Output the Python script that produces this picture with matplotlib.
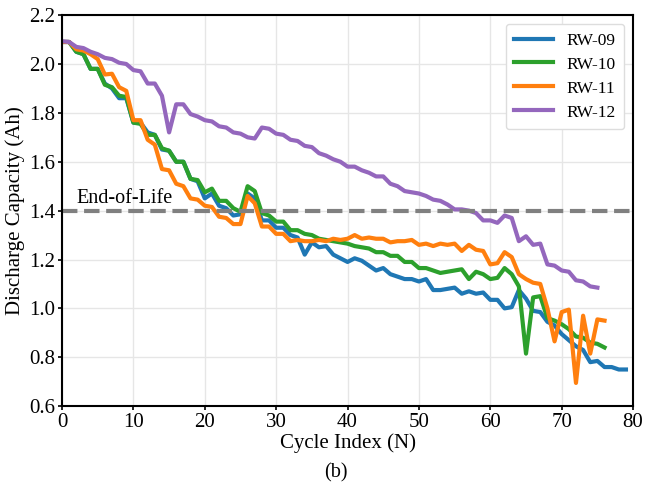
import matplotlib
matplotlib.use("Agg")
import matplotlib.pyplot as plt
import numpy as np

plt.rcParams['font.family'] = ['Liberation Serif', 'DejaVu Serif']
plt.rcParams['mathtext.fontset'] = 'stix'

rw09 = [2.09, 2.09, 2.05, 2.04, 1.98, 1.98, 1.92, 1.90, 1.86, 1.86,
        1.76, 1.76, 1.72, 1.71, 1.65, 1.645, 1.60, 1.60, 1.53, 1.52,
        1.45, 1.47, 1.42, 1.41, 1.38, 1.385, 1.47, 1.45, 1.36, 1.36,
        1.33, 1.33, 1.30, 1.29, 1.22, 1.27, 1.25, 1.255, 1.22, 1.205,
        1.19, 1.205, 1.195, 1.175, 1.155, 1.165, 1.14, 1.13, 1.12, 1.12,
        1.11, 1.12, 1.075, 1.075, 1.08, 1.085, 1.06, 1.07, 1.06, 1.065,
        1.035, 1.035, 1.0, 1.005, 1.075, 1.04, 0.99, 0.985, 0.945, 0.93,
        0.895, 0.87, 0.845, 0.83, 0.78, 0.785, 0.76, 0.76, 0.75, 0.75]
rw10 = [2.09, 2.09, 2.05, 2.04, 1.98, 1.98, 1.915, 1.905, 1.87, 1.865,
        1.76, 1.755, 1.71, 1.71, 1.655, 1.645, 1.60, 1.60, 1.53, 1.525,
        1.475, 1.49, 1.44, 1.44, 1.41, 1.395, 1.50, 1.48, 1.39, 1.38,
        1.355, 1.355, 1.32, 1.32, 1.305, 1.30, 1.285, 1.28, 1.275, 1.27,
        1.265, 1.255, 1.25, 1.245, 1.23, 1.23, 1.215, 1.215, 1.19, 1.19,
        1.165, 1.165, 1.155, 1.145, 1.15, 1.155, 1.16, 1.12, 1.15, 1.14,
        1.12, 1.125, 1.165, 1.14, 1.09, 0.815, 1.045, 1.05, 0.96, 0.95,
        0.935, 0.915, 0.885, 0.88, 0.86, 0.855, 0.84]
rw11 = [2.09, 2.09, 2.06, 2.055, 2.04, 2.02, 1.957, 1.96, 1.905, 1.89,
        1.77, 1.77, 1.69, 1.67, 1.57, 1.565, 1.51, 1.50, 1.45, 1.445,
        1.42, 1.415, 1.375, 1.37, 1.345, 1.345, 1.46, 1.43, 1.335, 1.335,
        1.305, 1.305, 1.275, 1.28, 1.275, 1.275, 1.28, 1.275, 1.285, 1.28,
        1.285, 1.30, 1.285, 1.29, 1.285, 1.285, 1.27, 1.275, 1.275, 1.28,
        1.26, 1.265, 1.255, 1.265, 1.26, 1.265, 1.235, 1.26, 1.24, 1.235,
        1.18, 1.185, 1.23, 1.21, 1.14, 1.12, 1.105, 1.10, 1.00, 0.865,
        0.985, 0.995, 0.695, 0.97, 0.815, 0.955, 0.95]
rw12 = [2.093, 2.09, 2.07, 2.065, 2.05, 2.04, 2.025, 2.02, 2.005, 2.0,
        1.975, 1.97, 1.92, 1.92, 1.87, 1.72, 1.835, 1.835, 1.795, 1.785,
        1.77, 1.765, 1.745, 1.74, 1.72, 1.715, 1.70, 1.695, 1.74, 1.735,
        1.715, 1.71, 1.69, 1.685, 1.665, 1.66, 1.635, 1.625, 1.61, 1.60,
        1.58, 1.58, 1.565, 1.555, 1.54, 1.54, 1.51, 1.50, 1.48, 1.475,
        1.47, 1.46, 1.445, 1.44, 1.425, 1.405, 1.405, 1.40, 1.39, 1.36,
        1.36, 1.35, 1.38, 1.37, 1.275, 1.295, 1.26, 1.265, 1.18, 1.175,
        1.155, 1.15, 1.115, 1.11, 1.09, 1.085]

series = [("RW-09", rw09, "#1f77b4"), ("RW-10", rw10, "#2ca02c"),
          ("RW-11", rw11, "#ff7f0e"), ("RW-12", rw12, "#9467bd")]
eol = 1.4

fig = plt.figure(figsize=(6.46, 4.87), dpi=100)
ax = fig.add_axes([0.096, 0.166, 0.884, 0.803])

for name, vals, c in series:
    ax.plot(np.arange(len(vals)), vals, color=c, lw=3, label=name)

ax.axhline(eol, color="gray", ls="--", lw=3)
ax.text(2.0, eol + 0.012, "End-of-Life", fontsize=14.5, va="bottom", ha="left")

ax.set_xlim(0, 80)
ax.set_ylim(0.6, 2.2)
ax.set_xticks(np.arange(0, 81, 10))
ax.set_yticks(np.arange(0.6, 2.21, 0.2))
ax.set_yticklabels([f"{v:.1f}" for v in np.arange(0.6, 2.21, 0.2)])
ax.tick_params(labelsize=15, width=1.2, length=3, pad=2)
ax.grid(True, color="#e6e6e6", lw=1)
ax.set_axisbelow(True)
for s in ax.spines.values():
    s.set_linewidth(1.5)
ax.set_xlabel("Cycle Index (N)", fontsize=15, labelpad=1)
ax.set_ylabel("Discharge Capacity (Ah)", fontsize=15, labelpad=3)
ax.legend(loc="upper right", fontsize=12.5, handlelength=2.2, borderpad=0.5,
          labelspacing=0.45, handletextpad=0.8, framealpha=1, edgecolor="#dddddd")
fig.text(0.52, 0.03, "(b)", fontsize=14.5, ha="center", va="center")

fig.savefig("out.png", dpi=100)
